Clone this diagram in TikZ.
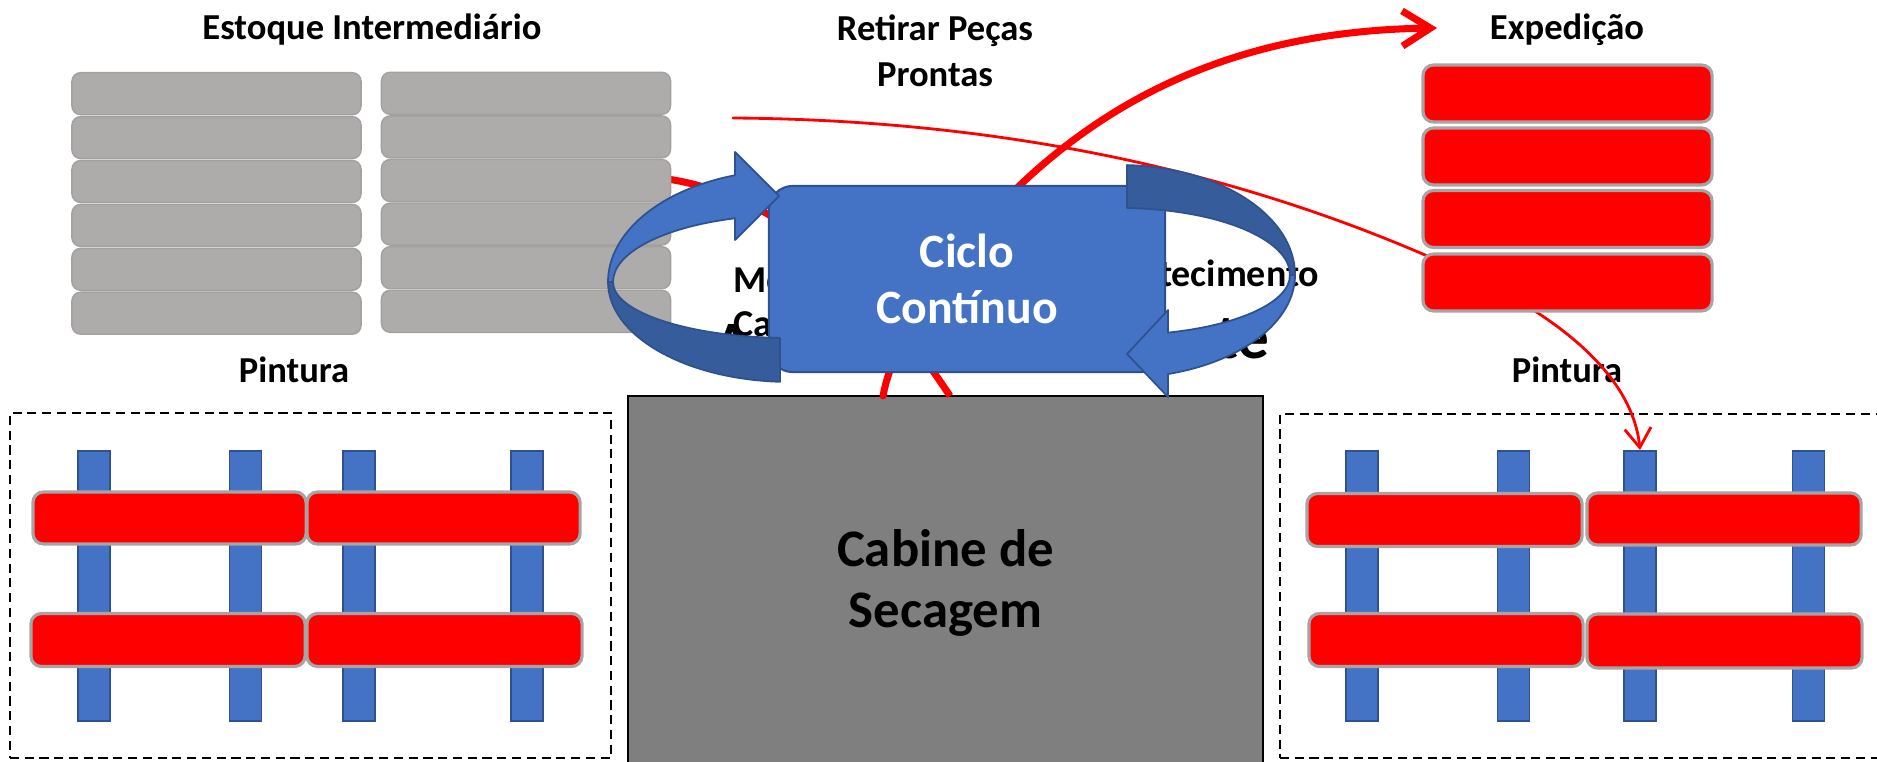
\documentclass[tikz,border=0pt]{standalone}
\usepackage{fontspec}
\setmainfont{Carlito}
\usetikzlibrary{arrows.meta}
\definecolor{pblue}{HTML}{4472C4}
\definecolor{pbdark}{HTML}{365C9B}
\definecolor{pbline}{HTML}{2F528F}
\definecolor{pred}{HTML}{FF0000}
\definecolor{pgreybox}{HTML}{AEABAB}
\definecolor{pgreyedge}{HTML}{A3A0A0}
\definecolor{pgreyline}{HTML}{A5A5A5}
\definecolor{pcabine}{HTML}{7F7F7F}
\newcommand{\twoline}[2]{\begin{tabular}[t]{@{}c@{}}#1\\#2\end{tabular}}
\begin{document}
\begin{tikzpicture}[x=0.01cm,y=-0.01cm,
  greybox/.style={rectangle, rounded corners=2.5pt, fill=pgreybox, draw=pgreyedge, line width=0.4pt, minimum width=2.89cm, minimum height=0.42cm, inner sep=0pt},
  redbox/.style={rectangle, rounded corners=3pt, fill=pred, draw=pgreyline, line width=0.9pt, inner sep=0pt},
  bluebar/.style={rectangle, fill=pblue, draw=pbline, line width=0.5pt, minimum width=0.32cm, minimum height=2.70cm, inner sep=0pt},
  dashbox/.style={rectangle, draw=black, dash pattern=on 2.6pt off 1.6pt, line width=0.6pt, inner sep=0pt},
  title/.style={font=\bfseries\fontsize{10.4}{12.8}\selectfont, inner sep=0pt, anchor=base},
  hid/.style={font=\bfseries\fontsize{10.8}{12.8}\selectfont, inner sep=0pt},
  big/.style={font=\bfseries\fontsize{18}{21}\selectfont, inner sep=0pt},
  redthick/.style={draw=pred, line width=2pt},
  redthin/.style={draw=pred, line width=0.8pt},
  arrlight/.style={fill=pblue, draw=pbline, line width=0.5pt, line join=round},
  arrdark/.style={fill=pbdark, draw=pbline, line width=0.5pt, line join=round},
]
\useasboundingbox (0,0) rectangle (1877,761);
\clip (0,0) rectangle (1877,761);
\fill[white] (0,0) rectangle (1877,761);

% Pintura areas
\node[dashbox, minimum width=6.01cm, minimum height=3.45cm] (pl) at (310.5,585.5) {};
\node[dashbox, minimum width=6.10cm, minimum height=3.44cm] (pr) at (1585,586) {};
\foreach \n/\x in {1/94,2/245.5,3/359,4/527} {\node[bluebar] (lb\n) at (\x,586) {};}
\foreach \n/\x in {1/1362,2/1513.5,3/1640,4/1808.5} {\node[bluebar] (rb\n) at (\x,586) {};}
\node[redbox, minimum width=2.73cm, minimum height=0.52cm] (lr11) at (169.5,518) {};
\node[redbox, minimum width=2.73cm, minimum height=0.52cm] (lr12) at (443.5,518) {};
\node[redbox, minimum width=2.74cm, minimum height=0.53cm] (lr21) at (168,640) {};
\node[redbox, minimum width=2.75cm, minimum height=0.53cm] (lr22) at (444.5,640) {};
\node[redbox, minimum width=2.75cm, minimum height=0.53cm] (rr11) at (1444.5,520) {};
\node[redbox, minimum width=2.74cm, minimum height=0.52cm] (rr12) at (1724,519) {};
\node[redbox, minimum width=2.74cm, minimum height=0.53cm] (rr21) at (1446,640) {};
\node[redbox, minimum width=2.75cm, minimum height=0.54cm] (rr22) at (1724.5,641) {};

% Cabine
\node[rectangle, fill=pcabine, draw=black, line width=0.5pt, minimum width=6.35cm, minimum height=3.74cm, inner sep=0pt,
  font=\bfseries\fontsize{15}{17.4}\selectfont, align=center] (cab) at (945.5,583) {Cabine de\\Secagem};

% thick red line from stock to cabine (behind grey boxes)
\coordinate (s1) at (660,178);
\coordinate (c1) at (950,396);
\draw[redthick] (s1) .. controls (800,195) and (900,320) .. (c1);

% grey stock boxes
\foreach \i in {0,...,5} {
  \node[greybox] (gl\i) at (216.5,{93.7+43.9*\i}) {};
  \node[greybox] (gr\i) at (526,{93.3+43.6*\i}) {};
}

% titles
\node[title] (tEst) at (372,40) {Estoque Intermediário};
\node[title] (tRet) at (935,41) {\twoline{Retirar Peças}{Prontas}};
\node[title] (tExp) at (1567,40) {Expedição};
\node[title] (tPL) at (294,383) {Pintura};
\node[title] (tPR) at (1567,383) {Pintura};

% thin red curve to right painting
\coordinate (t1) at (733,118);
\coordinate (t2) at (1480,280);
\draw[redthin, line cap=round, -{Straight Barb[length=5.5pt,width=7.5pt]}] (t1) .. controls (1000,120) and (1250,170) .. (t2) .. controls (1600,340) and (1635,400) .. (rb3.north);

% thick red arrow to Expedicao
\coordinate (k1) at (883,396);
\coordinate (k2) at (1017,188);
\coordinate (k3) at (1437,28);
\draw[redthick, line cap=round, -{Straight Barb[length=8pt,width=10pt]}] (k1) .. controls (895,330) and (960,250) .. (k2) .. controls (1150,60) and (1300,30) .. (k3);

% Expedicao boxes
\node[redbox, minimum width=2.89cm, minimum height=0.57cm] (e1) at (1567.5,93.5) {};
\node[redbox, minimum width=2.89cm, minimum height=0.57cm] (e2) at (1567.5,156.5) {};
\node[redbox, minimum width=2.89cm, minimum height=0.57cm] (e3) at (1567.5,219) {};
\node[redbox, minimum width=2.89cm, minimum height=0.57cm] (e4) at (1567.5,282.5) {};

% texts partly hidden behind the cycle
\node[hid, anchor=base west] (mo) at (733,292) {Mo};
\node[hid, anchor=base west] (ca) at (733,337) {Ca};
\node[hid, anchor=base east] (tec) at (1320,287) {tecimento};
\node[big, anchor=base west] (bA) at (713,365) {A};
\node[big, anchor=base east] (bte) at (1270,358) {te};

% Ciclo box
\node[rectangle, rounded corners=6.8pt, fill=pblue, draw=pbline, line width=0.6pt, minimum width=3.96cm, minimum height=1.86cm,
  text=white, font=\bfseries\fontsize{13.6}{16}\selectfont, align=center, inner sep=0pt] (cic) at (967,279) {Ciclo\\Contínuo};

% left circular arrow
\draw[arrdark] (780,381.8) arc[start angle=93.15, end angle=180, x radius=182, y radius=100]
  -- (613,282) arc[start angle=180, end angle=93.24, x radius=177, y radius=56] -- cycle;
\draw[arrlight] (608,282) arc[start angle=180, end angle=252.41, x radius=182, y radius=112]
  -- (735,152) -- (779,196) -- (735,240) -- (735,218.3)
  arc[start angle=251.90, end angle=180, x radius=177, y radius=67] -- cycle;

% right circular arrow
\draw[arrlight] (1295,275) arc[start angle=0, end angle=74.08, x radius=175, y radius=103]
  -- (1168,397) -- (1127,354) -- (1168,310) -- (1168,332.6)
  arc[start angle=73.60, end angle=0, x radius=170, y radius=60] -- cycle;
\draw[arrdark] (1127,165.1) arc[start angle=272.29, end angle=360, x radius=175, y radius=110]
  -- (1290,275) arc[start angle=360, end angle=272.36, x radius=170, y radius=67] -- cycle;
\end{tikzpicture}
\end{document}
